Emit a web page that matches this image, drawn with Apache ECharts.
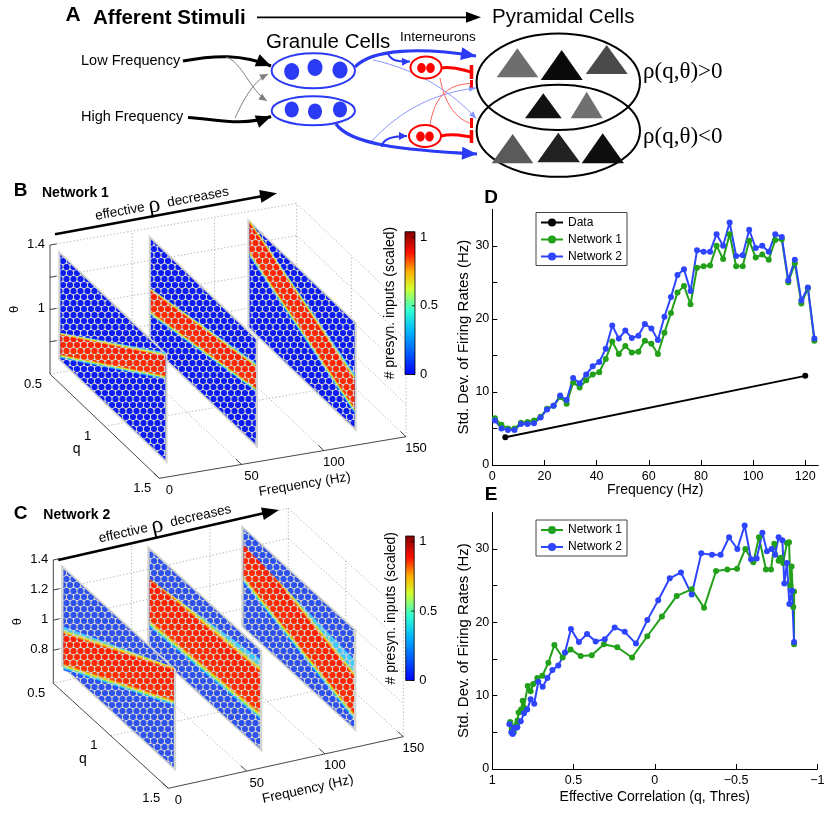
<!DOCTYPE html>
<html>
<head>
<meta charset="utf-8">
<script src="https://cdn.jsdelivr.net/npm/echarts@6/dist/echarts.min.js"></script>
<style>
html, body { margin: 0; padding: 0; background: #fff; }
#chart { width: 830px; height: 813px; }
</style>
</head>
<body>
<div id="chart"></div>
<script>
// ---- data ----
var freq = [1, 3.5, 6, 8.5, 11, 13.5, 16, 18.5, 21, 23.5, 26, 28.5, 31, 33.5, 36, 38.5, 41, 43.5, 46, 48.5,
    51, 53.5, 56, 58.5, 61, 63.5, 66, 68.5, 71, 73.5, 76, 78.5, 81, 83.5, 86, 88.5, 91, 93.5, 96, 98.5,
    101, 103.5, 106, 108.5, 111, 113.5, 116, 118.5, 121, 123.5];
var net1Std = [6.4, 5.5, 5.0, 5.0, 5.8, 5.9, 6.1, 6.6, 7.7, 8.1, 9.3, 8.4, 11.3, 10.6, 11.6, 12.4, 12.7, 14.5, 16.9, 15.2,
    16.3, 15.4, 15.5, 17.0, 16.6, 15.2, 18.1, 20.8, 23.6, 24.5, 22.0, 27.0, 27.2, 27.3, 30.0, 28.2, 31.6, 27.2, 27.2, 30.7,
    28.4, 28.8, 28.1, 30.8, 30.9, 25.0, 27.6, 22.1, 24.2, 17.0];
var net2Std = [6.1, 5.0, 4.8, 4.8, 5.6, 5.6, 5.7, 6.5, 7.6, 8.1, 9.5, 8.9, 11.9, 11.2, 12.4, 13.5, 14.1, 15.9, 19.1, 17.3,
    18.4, 17.4, 17.7, 19.3, 18.7, 17.1, 20.3, 23.0, 26.0, 26.8, 23.8, 29.4, 29.2, 29.2, 31.6, 30.0, 33.2, 28.6, 28.7, 32.2,
    29.7, 30.0, 29.2, 31.6, 31.2, 25.3, 28.1, 22.5, 24.3, 17.3];
var net1Corr = [0.89, 0.88, 0.874, 0.868, 0.862, 0.855, 0.849, 0.845, 0.838, 0.823, 0.813, 0.805, 0.782, 0.764, 0.748, 0.723, 0.692, 0.655, 0.618, 0.567,
    0.518, 0.456, 0.388, 0.313, 0.231, 0.14, 0.046, -0.044, -0.135, -0.227, -0.303, -0.377, -0.446, -0.506, -0.557, -0.606, -0.641, -0.684, -0.715, -0.735,
    -0.762, -0.775, -0.79, -0.813, -0.826, -0.835, -0.842, -0.852, -0.857, -0.857];
var net2Corr = [0.895, 0.883, 0.877, 0.873, 0.866, 0.856, 0.846, 0.825, 0.805, 0.785, 0.764, 0.742, 0.717, 0.69, 0.661, 0.63, 0.594, 0.553, 0.516, 0.467,
    0.417, 0.364, 0.308, 0.247, 0.185, 0.116, 0.046, -0.021, -0.092, -0.161, -0.227, -0.286, -0.352, -0.405, -0.457, -0.508, -0.553, -0.592, -0.627, -0.662,
    -0.69, -0.719, -0.74, -0.762, -0.785, -0.797, -0.813, -0.828, -0.844, -0.857];
var dataFreq = [5, 120];
var dataStd = [3.8, 12.2];

// 3-D panels: slices at these frequencies, plane theta range, red band [lo, hi] at q = 0.5 and q = 1.5
var sliceFreqs = [5, 60, 120];
var planeTheta = [0.68, 1.36];
var bandB_q05 = [[0.70, 0.86], [0.87, 1.04], [1.13, 1.36]];
var bandB_q15 = [[1.19, 1.36], [1.02, 1.20], [0.78, 1.03]];
var bandC_q05 = [[0.67, 0.96], [0.82, 1.15], [0.98, 1.24]];
var bandC_q15 = [[1.10, 1.36], [0.88, 1.29], [0.74, 1.15]];
var thetaTicks = [0.8, 1.0, 1.2, 1.4];
var thetaLabelsB = ['1.4', '1'];
var thetaLabelsC = ['1.4', '1.2', '1', '0.8'];
var qTicks = [0.5, 1, 1.5];
var fTicks = [0, 50, 100, 150];
var cbTicks = [0, 0.5, 1];

var FONT = 'Liberation Sans, Arial, Helvetica, sans-serif';
var SERIF = 'Liberation Serif, Times New Roman, serif';
var GREEN = '#22a01a';
var BLUE = '#2e45ff';
var ABLUE = '#2a3af5';
var PLANE = '#d2d4cf';

var els = [];
function add(e) { els.push(e); }
function txt(x, y, s, o) {
    o = o || {};
    var st = {
        text: s, fill: o.color || '#000', fontSize: o.size || 12, fontFamily: o.family || FONT,
        fontWeight: o.weight || 'normal', align: o.align || 'center', verticalAlign: 'middle',
        textAlign: o.align || 'center', textVerticalAlign: 'middle'
    };
    if (o.rich) st.rich = o.rich;
    return { type: 'text', x: x, y: y, rotation: o.rot || 0, style: st, silent: true };
}
function L(x1, y1, x2, y2, c, w, dash) {
    return { type: 'line', shape: { x1: x1, y1: y1, x2: x2, y2: y2 }, style: { stroke: c, lineWidth: w, lineDash: dash || null, fill: null }, silent: true };
}
function head(tx, ty, fx, fy, len, half, c) {
    var dx = tx - fx, dy = ty - fy, d = Math.sqrt(dx * dx + dy * dy);
    dx /= d; dy /= d;
    var bx = tx - dx * len, by = ty - dy * len;
    return { type: 'polygon', shape: { points: [[tx, ty], [bx - dy * half, by + dx * half], [bx + dy * half, by - dx * half]] }, style: { fill: c }, silent: true };
}
function curve(p0, c1, c2, p1, c, w) {
    return { type: 'bezierCurve', shape: { x1: p0[0], y1: p0[1], cpx1: c1[0], cpy1: c1[1], cpx2: c2[0], cpy2: c2[1], x2: p1[0], y2: p1[1] },
        style: { stroke: c, lineWidth: w, fill: null }, silent: true };
}
function curveArrow(p0, c1, c2, p1, c, w, len, half) {
    add(curve(p0, c1, c2, p1, c, w));
    add(head(p1[0], p1[1], c2[0], c2[1], len, half, c));
}
function ell(cx, cy, rx, ry, stroke, fill, w) {
    return { type: 'ellipse', shape: { cx: cx, cy: cy, rx: rx, ry: ry }, style: { stroke: stroke, fill: fill, lineWidth: w || 0 }, silent: true };
}
function tri(x1, x2, yb, ax, ay, c) {
    return { type: 'polygon', shape: { points: [[x1, yb], [x2, yb], [ax, ay]] }, style: { fill: c }, silent: true };
}

// dotted texture: plane-coloured gaps between round markers
function gapTile() {
    var c = document.createElement('canvas');
    c.width = 7; c.height = 12;
    var g = c.getContext('2d');
    g.fillStyle = PLANE;
    g.fillRect(0, 0, 7, 12);
    g.globalCompositeOperation = 'destination-out';
    [[3.5, 3], [0, 9], [7, 9]].forEach(function (p) {
        g.beginPath(); g.arc(p[0], p[1], 3.1, 0, 2 * Math.PI); g.fill();
    });
    return c;
}
var GAPS = { image: gapTile(), repeat: 'repeat' };

// ---------- panel A ----------
add(txt(73, 15, 'A', { size: 21, weight: 'bold' }));
add(txt(93, 18, 'Afferent Stimuli', { size: 20.5, weight: 'bold', align: 'left' }));
add(L(257, 17.3, 468, 17.3, '#000', 1.8));
add(head(481, 17.3, 257, 17.3, 15, 5.5, '#000'));
add(txt(492, 17, 'Pyramidal Cells', { size: 20.5, align: 'left' }));
add(txt(266, 42, 'Granule Cells', { size: 20.5, align: 'left' }));
add(txt(400, 37, 'Interneurons', { size: 13.5, align: 'left' }));
add(txt(81, 61, 'Low Frequency', { size: 14.5, align: 'left' }));
add(txt(81, 117, 'High Frequency', { size: 14.5, align: 'left' }));

curveArrow([183, 61], [215, 55], [242, 54], [271, 66], '#000', 3, 15, 6.5);
curveArrow([188, 117.5], [215, 119], [242, 127], [271, 116.5], '#000', 3, 15, 6.5);
curveArrow([226, 57], [242, 62], [250, 90], [267, 101], '#808080', 1, 8, 3.5);
curveArrow([235, 118], [242, 103], [252, 82], [268, 74], '#808080', 1, 8, 3.5);

// thin cross projections
curveArrow([373, 60], [420, 70], [455, 95], [476, 118.5], '#8a96ff', 1, 7, 3);
curveArrow([370, 143], [395, 115], [430, 93], [476, 88], '#8a96ff', 1, 7, 3);
add(curve([440, 78], [443, 96], [452, 118], [471, 123.5], '#ff6060', 1));
add(curve([430, 125], [434, 100], [445, 84], [471, 83.5], '#ff6060', 1));

// thick granule -> pyramidal
curveArrow([355, 67], [372, 49], [420, 47], [476, 56], ABLUE, 3.2, 15, 6.5);
curveArrow([336, 124], [350, 144], [400, 150], [477, 154], ABLUE, 3.2, 15, 6.5);
curveArrow([388, 54], [392, 61], [398, 62], [410, 61.5], ABLUE, 2, 8, 4);
curveArrow([382, 147], [382, 139], [392, 136], [407, 136], ABLUE, 2, 8, 4);

// granule cells
add(ell(313.3, 70.8, 41.7, 17.5, ABLUE, '#fff', 2));
add(ell(291.7, 71.5, 7.5, 8.5, null, ABLUE));
add(ell(315, 67.5, 7.5, 8.5, null, ABLUE));
add(ell(340, 70, 7.5, 8.5, null, ABLUE));
add(ell(313.3, 110.8, 41.7, 14.5, ABLUE, '#fff', 2));
add(ell(291.7, 109.5, 7, 8, null, ABLUE));
add(ell(315, 111.5, 7, 8, null, ABLUE));
add(ell(340, 109.5, 7, 8, null, ABLUE));

// interneurons
add(curve([441, 68], [455, 66], [462, 70], [471, 72], '#f00', 3));
add(L(471.5, 65, 471.5, 79, '#f00', 3.5));
add(L(471.5, 80, 471.5, 87.5, '#f00', 3));
add(L(471.5, 118, 471.5, 128, '#f00', 3));
add(curve([441, 136], [455, 133], [462, 136], [471, 137], '#f00', 3));
add(L(471.5, 130, 471.5, 143, '#f00', 3.5));
add(ell(426, 67.5, 15.5, 11, '#f00', '#fff', 2));
add(ell(421.5, 68, 4.3, 5, null, '#f00'));
add(ell(430.5, 68, 4.3, 5, null, '#f00'));
add(ell(425, 136, 16, 11, '#f00', '#fff', 2));
add(ell(420.5, 136.5, 4.3, 5, null, '#f00'));
add(ell(429.5, 136.5, 4.3, 5, null, '#f00'));

// pyramidal populations
add(ell(558.3, 81.7, 81.7, 48.3, '#000', null, 2));
add(ell(558.3, 130.8, 81.7, 46, '#000', null, 2));
add(tri(496.7, 538.3, 77.3, 517.3, 48.3, '#6e6e6e'));
add(tri(540.7, 582.7, 80, 561.7, 50, '#0a0a0a'));
add(tri(585.7, 627.7, 74, 606.7, 45, '#4a4a4a'));
add(tri(525, 561.7, 118.3, 543.3, 93.3, '#111111'));
add(tri(570.7, 602.7, 118.3, 586.7, 91.7, '#707070'));
add(tri(491.7, 533.3, 163.3, 512.7, 134, '#5a5a5a'));
add(tri(537.3, 580, 162.3, 558.3, 132.7, '#222222'));
add(tri(581.7, 624, 163.3, 602.7, 133.3, '#0e0e0e'));
add(txt(643, 72, 'ρ(q,θ)>0', { family: SERIF, size: 23, align: 'left' }));
add(txt(643, 137, 'ρ(q,θ)<0', { family: SERIF, size: 23, align: 'left' }));

// ---------- panels B and C (projected 3-D) ----------
function proj(P, f, q, th) {
    var u = f / 150, v = q - 0.5, w = (th - P.th0) / (P.th1 - P.th0);
    return [P.ox + P.fx * u + P.qx * v, P.oy + P.fy * u + P.qy * v - P.tz * w];
}
var jet = [
    { offset: 0, color: '#0000ff' }, { offset: 0.3, color: '#00b4ff' }, { offset: 0.45, color: '#30ffd0' },
    { offset: 0.6, color: '#d0ff30' }, { offset: 0.72, color: '#ffb000' }, { offset: 0.85, color: '#ff1000' },
    { offset: 1, color: '#800000' }
];
var bandStops = [
    { offset: 0, color: '#1a3cff' }, { offset: 0.05, color: '#25c8ff' }, { offset: 0.1, color: '#d8f020' },
    { offset: 0.17, color: '#ff3000' }, { offset: 0.86, color: '#ff1e00' }, { offset: 0.93, color: '#e8e020' },
    { offset: 1, color: '#40c8ff' }
];

function panel3d(P, band05, band15, thetaLabels) {
    var dot = [1.2, 2.2], gc = '#9a9a9a';
    var i, t, a, b;
    // back wall grid (q = 0.5)
    for (i = 0; i < thetaTicks.length; i++) {
        t = thetaTicks[i];
        a = proj(P, 0, 0.5, t); b = proj(P, 150, 0.5, t);
        add(L(a[0], a[1], b[0], b[1], gc, 0.8, dot));
        a = proj(P, 150, 0.5, t); b = proj(P, 150, 1.5, t);
        add(L(a[0], a[1], b[0], b[1], gc, 0.8, dot));
    }
    [50, 100, 150].forEach(function (f) {
        var p = proj(P, f, 0.5, P.th0), r = proj(P, f, 0.5, P.th1);
        add(L(p[0], p[1], r[0], r[1], gc, 0.8, dot));
        var s = proj(P, f, 1.5, P.th0);
        add(L(p[0], p[1], s[0], s[1], gc, 0.8, dot));
    });
    [1, 1.5].forEach(function (q) {
        var p = proj(P, 150, q, P.th0), r = proj(P, 150, q, P.th1);
        add(L(p[0], p[1], r[0], r[1], gc, 0.8, dot));
    });
    a = proj(P, 0, 1, P.th0); b = proj(P, 150, 1, P.th0);
    add(L(a[0], a[1], b[0], b[1], gc, 0.8, dot));
    a = proj(P, 0, 0.5, P.th0); b = proj(P, 150, 0.5, P.th0);
    add(L(a[0], a[1], b[0], b[1], gc, 0.8, dot));

    // slices, back to front
    for (i = sliceFreqs.length - 1; i >= 0; i--) {
        var f = sliceFreqs[i];
        var plane = [proj(P, f, 0.5, planeTheta[0]), proj(P, f, 1.5, planeTheta[0]), proj(P, f, 1.5, planeTheta[1]), proj(P, f, 0.5, planeTheta[1])];
        add({ type: 'polygon', shape: { points: plane }, style: { fill: PLANE }, silent: true });
        var dots = [proj(P, f, 0.52, planeTheta[0] + 0.015), proj(P, f, 1.48, planeTheta[0] + 0.015), proj(P, f, 1.48, planeTheta[1] - 0.015), proj(P, f, 0.52, planeTheta[1] - 0.015)];
        add({ type: 'polygon', shape: { points: dots }, style: { fill: P.blue }, silent: true });
        var A0 = proj(P, f, 0.52, band05[i][0]), A1 = proj(P, f, 1.48, band15[i][0]);
        var B0 = proj(P, f, 0.52, band05[i][1]), B1 = proj(P, f, 1.48, band15[i][1]);
        var M = [(A0[0] + A1[0]) / 2, (A0[1] + A1[1]) / 2], N = [(B0[0] + B1[0]) / 2, (B0[1] + B1[1]) / 2];
        var dx = A1[0] - A0[0], dy = A1[1] - A0[1], dl = Math.sqrt(dx * dx + dy * dy);
        var nx = -dy / dl, ny = dx / dl;
        var tt = (N[0] - M[0]) * nx + (N[1] - M[1]) * ny;
        var grad = new echarts.graphic.LinearGradient(M[0], M[1], M[0] + nx * tt, M[1] + ny * tt, bandStops, true);
        add({ type: 'polygon', shape: { points: [A0, A1, B1, B0] }, style: { fill: grad }, silent: true });
        add({ type: 'polygon', shape: { points: dots }, style: { fill: GAPS }, silent: true });
    }

    // solid axes
    a = proj(P, 0, 0.5, P.th0); b = proj(P, 0, 0.5, P.th1);
    add(L(a[0], a[1], b[0], b[1], '#333', 0.9));
    b = proj(P, 0, 1.5, P.th0);
    add(L(a[0], a[1], b[0], b[1], '#333', 0.9));
    a = proj(P, 150, 1.5, P.th0);
    add(L(a[0], a[1], b[0], b[1], '#333', 0.9));
    thetaTicks.forEach(function (t) {
        var p = proj(P, 0, 0.5, t), r = proj(P, 4, 0.5, t);
        add(L(p[0], p[1], r[0], r[1], '#333', 0.9));
    });
    thetaLabels.forEach(function (s) {
        var p = proj(P, 0, 0.5, parseFloat(s));
        add(txt(p[0] - 5, p[1] - 1, s, { size: 13, align: 'right' }));
    });
    qTicks.forEach(function (q) {
        var p = proj(P, 0, q, P.th0);
        add(txt(p[0] - 17, p[1] + 10, String(q), { size: 13 }));
    });
    fTicks.forEach(function (f) {
        var p = proj(P, f, 1.5, P.th0), r = proj(P, f, 1.45, P.th0);
        add(L(p[0], p[1], r[0], r[1], '#333', 0.9));
        add(txt(p[0] + 10, p[1] + 12, String(f), { size: 13 }));
    });
    var ang = Math.atan2(-P.fy, P.fx);
    a = proj(P, 75, 1.5, P.th0);
    add(txt(a[0] + 22, a[1] + 27, 'Frequency (Hz)', { size: 13.5, rot: ang }));
    a = proj(P, 0, 1, P.th0);
    add(txt(a[0] - 28, a[1] + 23, 'q', { size: 14 }));
    a = proj(P, 0, 0.5, (P.th0 + P.th1) / 2);
    add(txt(a[0] - 36, a[1], 'θ', { size: 13, rot: Math.PI / 2 }));

    // colorbar
    var cb = P.cb;
    add({ type: 'rect', shape: { x: cb.x, y: cb.top, width: cb.w, height: cb.y0 - cb.top },
        style: { fill: new echarts.graphic.LinearGradient(0, 1, 0, 0, jet), stroke: '#000', lineWidth: 0.8 }, silent: true });
    cbTicks.forEach(function (v) {
        var y = cb.y0 - (cb.y0 - cb.y1) * v;
        add(L(cb.x + cb.w - 3, y, cb.x + cb.w, y, '#000', 0.8));
        add(txt(cb.x + cb.w + 5, y, String(v), { size: 13, align: 'left' }));
    });
    add(txt(cb.x - 15, (cb.y0 + cb.top) / 2, '# presyn. inputs (scaled)', { size: 14, rot: Math.PI / 2 }));

    // title row + arrow
    add(txt(P.letter[0], P.letter[1], P.letterText, { size: 19, weight: 'bold' }));
    add(txt(P.title[0], P.title[1], P.titleText, { size: 14, weight: 'bold', align: 'left' }));
    var s0 = P.arrow[0], s1 = P.arrow[1];
    add(L(s0[0], s0[1], s1[0] - 10, s1[1] + 2, '#000', 2.6));
    add(head(s1[0], s1[1], s0[0], s0[1], 17, 6.5, '#000'));
    add(txt(P.arrowText[0], P.arrowText[1], 'effective {r|ρ}  decreases', {
        size: 13.5, rot: Math.atan2(s0[1] - s1[1], s1[0] - s0[0]),
        rich: { r: { fontFamily: SERIF, fontSize: 24 } }
    }));
}

panel3d({
    ox: 50, oy: 374, fx: 246.7, fy: -41.6, qx: 109.3, qy: 104.3, tz: 129, th0: 0.6, th1: 1.4,
    blue: '#0b1cf5',
    cb: { x: 405, w: 10, top: 231.7, y0: 374.5, y1: 237 },
    letter: [20.5, 191], letterText: 'B', title: [42, 193.5], titleText: 'Network 1',
    arrow: [[55, 234.3], [277, 193.3]], arrowText: [162, 204]
}, bandB_q05, bandB_q15, thetaLabelsB);

panel3d({
    ox: 53.3, oy: 683.3, fx: 235, fy: -51.6, qx: 115, qy: 105, tz: 123.3, th0: 0.58, th1: 1.4,
    blue: '#2f52ee',
    cb: { x: 405.7, w: 8.5, top: 536, y0: 680.5, y1: 541.7 },
    letter: [20.5, 514], letterText: 'C', title: [43.3, 515], titleText: 'Network 2',
    arrow: [[58.3, 560], [279, 510]], arrowText: [165, 524]
}, bandC_q05, bandC_q15, thetaLabelsC);

add(txt(491, 197.5, 'D', { size: 19, weight: 'bold' }));
add(txt(491, 494.5, 'E', { size: 19, weight: 'bold' }));

// ---------- panels D and E (real axes) ----------
function axisBase(extra) {
    var base = {
        type: 'value',
        axisLine: { show: true, onZero: false, lineStyle: { color: '#000', width: 1 } },
        axisTick: { show: true, inside: true, length: 5, lineStyle: { color: '#000' } },
        axisLabel: { color: '#000', fontSize: 12.5, fontFamily: FONT, margin: 5, showMaxLabel: false },
        splitLine: { show: false },
        nameLocation: 'middle',
        nameMoveOverlap: false,
        nameTextStyle: { color: '#000', fontSize: 14, fontFamily: FONT }
    };
    for (var k in extra) base[k] = extra[k];
    return base;
}
function tenOnly(v) { return v % 10 === 0 ? String(v) : ''; }
function signed(v) { return v < 0 ? '\u2212' + (-v) : String(v); }
function lineSeries(name, color, data, xi) {
    return {
        name: name, type: 'line', xAxisIndex: xi, yAxisIndex: xi, data: data,
        symbol: 'circle', symbolSize: 6, color: color,
        lineStyle: { color: color, width: 2 }, itemStyle: { color: color },
        emphasis: { disabled: true }
    };
}
var legendBase = {
    orient: 'vertical', itemWidth: 22, itemHeight: 10, itemGap: 3,
    borderColor: '#444', borderWidth: 1, padding: [3, 5, 2, 4],
    textStyle: { color: '#000', fontSize: 12, fontFamily: FONT, lineHeight: 14 }
};
var yName = 'Std. Dev. of Firing Rates (Hz)';
var yNameStyle = { color: '#000', fontSize: 15, fontFamily: FONT };
var yLabel = { color: '#000', fontSize: 12.5, fontFamily: FONT, margin: 3, showMaxLabel: false, formatter: tenOnly };

var chart = echarts.init(document.getElementById('chart'));
var option = {
    animation: false,
    graphic: { elements: els },
    legend: [
        Object.assign({}, legendBase, { left: 536, top: 212.5, data: ['Data', 'Network 1', 'Network 2'] }),
        Object.assign({}, legendBase, { left: 536, top: 520, data: ['Network 1', 'Network 2'] })
    ],
    grid: [
        { left: 492.3, top: 209.3, width: 326, height: 255.7, show: false },
        { left: 492.3, top: 512.3, width: 325, height: 256.7, show: false }
    ],
    xAxis: [
        axisBase({ gridIndex: 0, min: 0, max: 125, interval: 20, name: 'Frequency (Hz)', nameGap: 18 }),
        axisBase({
            gridIndex: 1, min: -1, max: 1, interval: 0.5, inverse: true, name: 'Effective Correlation (q, Thres)', nameGap: 21,
            axisLabel: { color: '#000', fontSize: 12.5, fontFamily: FONT, margin: 5, formatter: signed }
        })
    ],
    yAxis: [
        axisBase({ gridIndex: 0, min: 0, max: 35, interval: 5, name: yName, nameGap: 21, nameTextStyle: yNameStyle, axisLabel: yLabel }),
        axisBase({ gridIndex: 1, min: 0, max: 35, interval: 5, name: yName, nameGap: 21, nameTextStyle: yNameStyle, axisLabel: yLabel })
    ],
    series: [
        lineSeries('Data', '#000', dataFreq.map(function (f, i) { return [f, dataStd[i]]; }), 0),
        lineSeries('Network 1', GREEN, freq.map(function (f, i) { return [f, net1Std[i]]; }), 0),
        lineSeries('Network 2', BLUE, freq.map(function (f, i) { return [f, net2Std[i]]; }), 0),
        lineSeries('Network 1', GREEN, net1Corr.map(function (c, i) { return [c, net1Std[i]]; }), 1),
        lineSeries('Network 2', BLUE, net2Corr.map(function (c, i) { return [c, net2Std[i]]; }), 1)
    ]
};
chart.setOption(option);
</script>
</body>
</html>
